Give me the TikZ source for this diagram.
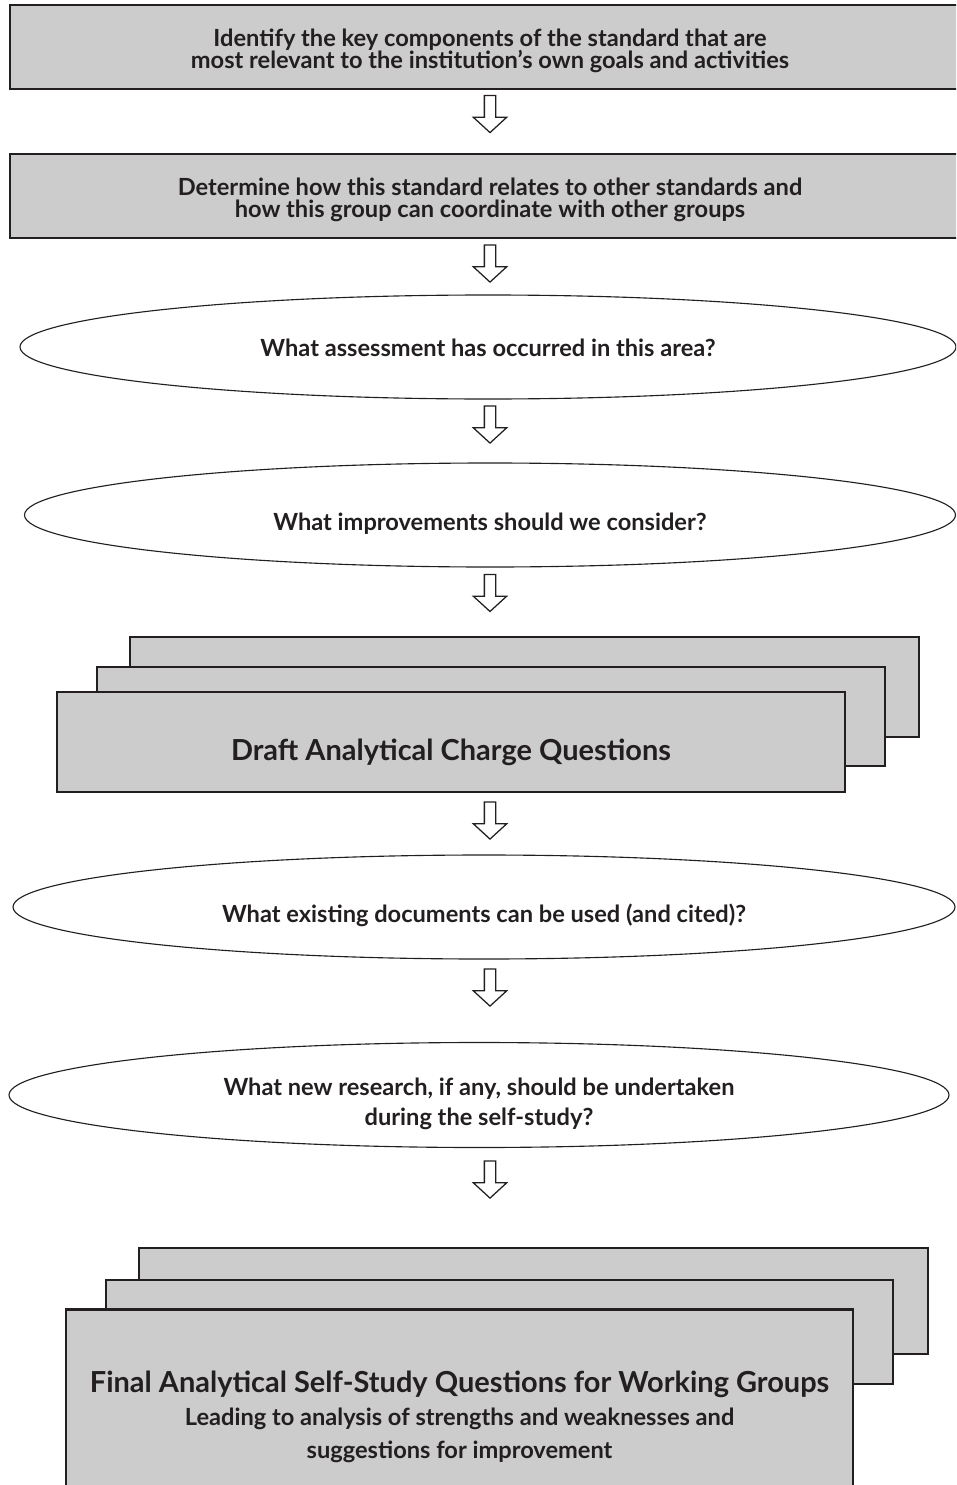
\documentclass[tikz,border=0pt]{standalone}
\usepackage{fontspec}
\setmainfont{Lato}
\usetikzlibrary{shapes.geometric,shapes.arrows}
\definecolor{panelgray}{HTML}{CCCCCC}
\definecolor{inkblack}{HTML}{231F20}

\begin{document}
\lineskiplimit=-10pt
\begin{tikzpicture}[scale= 1,
  panel/.style={draw=inkblack, fill=panelgray, line width=2.1pt, inner sep=0pt, align=center,
    font=\bfseries\fontsize{16.8}{15.3}\selectfont, text=inkblack},
  twoline/.style={text height=33.1pt, text depth=2.8pt},
  bubble/.style={draw=inkblack, ellipse, line width=0.8pt, inner sep=0pt, align=center,
    minimum height=2.6cm, font=\bfseries\fontsize{16.8}{21}\selectfont, text=inkblack,
    text height=25pt, text depth=3.2pt},
  downarrow/.style={single arrow, draw=inkblack, fill=white, line width=0.9pt, rotate=-90,
    inner xsep=0pt, inner ysep=0.125cm, minimum height=0.925cm,
    single arrow head extend=0.275cm, single arrow tip angle=95}]
  \useasboundingbox (0,0) rectangle (23.9,-37.125);
  \clip (0,0) rectangle (23.9,-37.125);

  \node[panel, twoline, minimum width=24cm, minimum height=2.1cm] (goals) at (12.25,-1.175)
    {Identify the key components of the standard that are\\
     most relevant to the institution’s own goals and activities};
  \node[panel, twoline, minimum width=24cm, minimum height=2.1cm] (relate) at (12.25,-4.9)
    {Determine how this standard relates to other standards and\\
     how this group can coordinate with other groups};

  \node[bubble, minimum width=23.4cm, text height=16.7pt] (assess) at (12.2,-8.675)
    {What assessment has occurred in this area?};
  \node[bubble, minimum width=23.275cm] (improve) at (12.25,-12.875)
    {What improvements should we consider?};

  \node[panel, minimum width=19.725cm, minimum height=2.5cm] (draftback) at (13.1125,-17.175) {};
  \node[panel, minimum width=19.7cm, minimum height=2.475cm] (draftmid) at (12.275,-17.9125) {};
  \node[panel, minimum width=19.7cm, minimum height=2.5cm, text height=29.6pt, text depth=4pt,
    font=\bfseries\fontsize{20.6}{24}\selectfont] (draft) at (11.275,-18.55)
    {Draft Analytical Charge Questions};

  \node[bubble, minimum width=23.55cm] (existing) at (12.1,-22.675)
    {What existing documents can be used (and cited)?};
  \node[bubble, minimum width=23.5cm, minimum height=2.625cm, text height=46.2pt]
    (research) at (11.975,-27.375)
    {What new research, if any, should be undertaken\\ during the self-study?};

  \node[panel, minimum width=19.725cm, minimum height=2.65cm] (finalback) at (13.3375,-32.525) {};
  \node[panel, minimum width=19.675cm, minimum height=2.6cm] (finalmid) at (12.4875,-33.3) {};
  \node[panel, minimum width=19.675cm, minimum height=5.35cm,
    font=\bfseries\fontsize{16.8}{23.5}\selectfont] (final) at (11.4875,-35.42)
    {{\fontsize{20.6}{24}\selectfont Final Analytical Self-Study Questions for Working Groups}\\
     Leading to analysis of strengths and weaknesses and\\
     suggestions for improvement};

  \node[downarrow] (arr1) at (12.25,-2.7875) {};
  \node[downarrow] (arr2) at (12.25,-6.525) {};
  \node[downarrow] (arr3) at (12.25,-10.55) {};
  \node[downarrow] (arr4) at (12.25,-14.76) {};
  \node[downarrow] (arr5) at (12.25,-20.45) {};
  \node[downarrow] (arr6) at (12.25,-24.625) {};
  \node[downarrow] (arr7) at (12.25,-29.425) {};
\end{tikzpicture}
\end{document}
